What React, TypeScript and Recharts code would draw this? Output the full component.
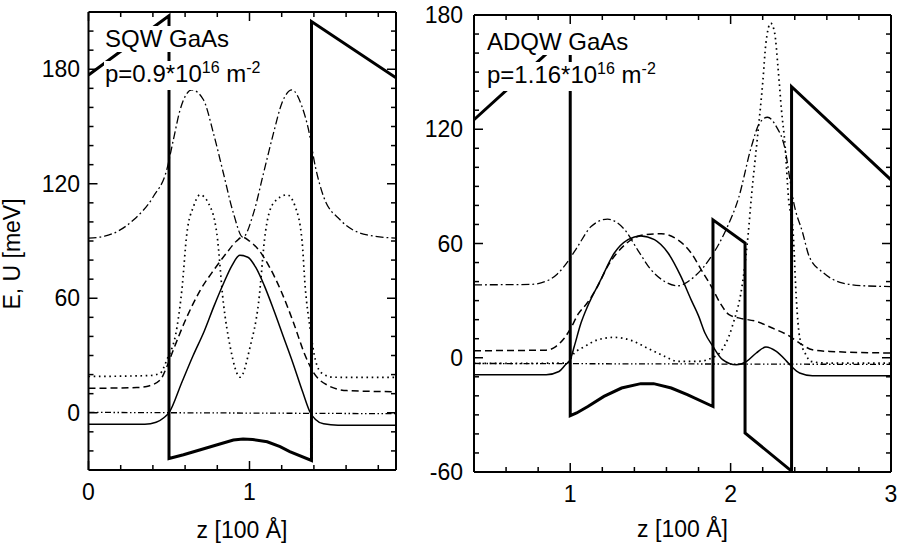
import React from "react";
import { LineChart, Line, XAxis, YAxis } from "recharts";

// ---- SQW panel (left) ----
const sqwBand = [
  [0, 177], [0.5, 208], [0.5, -24], [0.59, -22], [0.69, -19.5], [0.8, -16.8], [0.9, -14.3],
  [0.96, -13.7], [1.02, -14], [1.11, -15.2], [1.19, -17.8], [1.25, -20.4], [1.385, -25],
  [1.385, 205], [1.91, 175.5],
];
const sqwSolid = [
  [0, -6], [0.35, -6], [0.42, -5], [0.47, -2.5], [0.5, 0], [0.58, 16], [0.65, 30], [0.72, 43],
  [0.78, 56], [0.84, 68], [0.89, 77], [0.94, 82.5], [0.99, 81.5], [1.04, 76], [1.09, 67],
  [1.15, 54], [1.21, 40], [1.27, 26], [1.33, 11], [1.378, 0], [1.41, -3.5], [1.46, -5.8],
  [1.55, -6.5], [1.91, -6.5],
];
const sqwDashed = [
  [0, 12.8], [0.3, 13.2], [0.362, 13.8], [0.445, 17.2], [0.486, 24], [0.527, 33], [0.61, 50],
  [0.693, 64], [0.78, 75], [0.86, 84], [0.92, 90], [0.955, 92], [1.0, 90], [1.06, 85],
  [1.12, 77], [1.2, 63], [1.27, 48], [1.346, 30], [1.398, 21], [1.481, 14.6], [1.606, 11.6],
  [1.91, 11],
];
const sqwDotted = [
  [0, 19], [0.38, 19.5], [0.445, 20.7], [0.486, 27.6], [0.55, 45], [0.58, 64.4], [0.611, 94],
  [0.652, 108], [0.693, 114.2], [0.745, 109.8], [0.797, 94], [0.838, 57.4], [0.88, 34.6],
  [0.942, 18.6], [1.004, 34.6], [1.056, 57.4], [1.098, 94], [1.149, 109.8], [1.233, 114.2],
  [1.284, 108], [1.326, 90.4], [1.346, 66], [1.378, 43.4], [1.409, 27.7], [1.45, 20.7],
  [1.522, 18.6], [1.91, 18.5],
];
const sqwDashDot = [
  [0, 91.5], [0.1, 92.5], [0.279, 101], [0.403, 113.3], [0.486, 127.3], [0.527, 143],
  [0.569, 158.7], [0.642, 169.2], [0.714, 164], [0.776, 146.5], [0.838, 125.5], [0.9, 104.6],
  [0.959, 92], [1.025, 104.6], [1.087, 125.5], [1.149, 146.5], [1.201, 162.2], [1.264, 169.2],
  [1.326, 160.4], [1.367, 148.2], [1.409, 129], [1.46, 113.3], [1.564, 101], [1.73, 93.2],
  [1.91, 91.5],
];
const sqwFermi = [[0, 0.2], [1.91, -0.5]];

// ---- ADQW panel (right) ----
const adqwBand = [
  [0.4, 125], [1.0, 171], [1.0, -30.4], [1.04, -29], [1.11, -25.6], [1.21, -20.3], [1.32, -15.9],
  [1.44, -13.6], [1.52, -13.6], [1.63, -15.9], [1.73, -19.4], [1.89, -25.6], [1.89, 72.4],
  [2.09, 60.2], [2.09, -39.5], [2.38, -59.5], [2.38, 142.4], [3.0, 93.4],
];
const adqwSolid = [
  [0.4, -8.9], [0.85, -8.9], [0.93, -7.2], [0.97, -3.7], [1.0, -1], [1.025, 5.9], [1.067, 18.2],
  [1.108, 27], [1.19, 40.9], [1.275, 55], [1.36, 62], [1.44, 64], [1.525, 62], [1.61, 55],
  [1.69, 42.7], [1.754, 30.4], [1.8, 22], [1.84, 13], [1.89, 5.9], [1.95, -1], [2.035, -3.7],
  [2.1, -1.9], [2.16, 2.5], [2.22, 5.6], [2.285, 3.3], [2.35, -1.9], [2.38, -4.6], [2.43, -8],
  [2.51, -9.4], [3.0, -9.4],
];
const adqwDashed = [
  [0.4, 3.7], [0.85, 4], [0.91, 5.9], [0.96, 10], [1.0, 15], [1.05, 23], [1.108, 29],
  [1.17, 37.4], [1.233, 48], [1.34, 59.3], [1.46, 64.6], [1.567, 65.1], [1.67, 62], [1.754, 55],
  [1.817, 46.2], [1.88, 37.4], [1.94, 28], [1.99, 22.6], [2.056, 20.8], [2.16, 19.1],
  [2.26, 15.6], [2.37, 11.2], [2.43, 7.7], [2.51, 4.2], [2.62, 3.3], [3.0, 2.5],
];
const adqwDotted = [
  [0.4, -3], [0.98, -2.8], [1.025, 2.4], [1.09, 5.9], [1.17, 9.4], [1.275, 10.7], [1.38, 9.1],
  [1.48, 5.1], [1.59, 0.7], [1.67, -1.9], [1.795, -1.9], [1.88, -0.2], [1.93, 2.4], [2.01, 16.4],
  [2.08, 42.7], [2.11, 65.4], [2.13, 84.7], [2.17, 118], [2.2, 144.2], [2.22, 165.2],
  [2.25, 175.7], [2.275, 170.4], [2.295, 153], [2.317, 130.2], [2.34, 111], [2.36, 84.7],
  [2.39, 65.4], [2.41, 30.4], [2.43, 11], [2.47, 1.5], [2.5, -1.9], [2.6, -2.8], [3.0, -2.8],
];
const adqwDashDot = [
  [0.4, 38.3], [0.75, 38.5], [0.87, 41], [0.92, 44], [0.98, 50], [1.046, 58.4], [1.13, 68.9],
  [1.233, 72.8], [1.34, 67.2], [1.42, 56.7], [1.504, 46.2], [1.59, 40], [1.67, 37.8],
  [1.775, 42.7], [1.88, 53.2], [1.97, 67], [2.05, 84], [2.13, 111], [2.18, 123.2], [2.23, 126.3],
  [2.285, 121.4], [2.34, 109.2], [2.37, 93.4], [2.39, 83], [2.45, 65.4], [2.49, 53.2],
  [2.58, 44.5], [2.7, 39.2], [2.83, 37.8], [3.0, 37.4],
];
const adqwFermi = [[0.4, -3], [3.0, -3.5]];

// ---- ticks (all positions, and which of them are labelled) ----
const sqwXTicks = [0, 0.2, 0.4, 0.6, 0.8, 1, 1.2, 1.4, 1.6, 1.8];
const sqwXMajor = [0, 1];
const sqwYTicks = [-20, -10, 0, 10, 20, 30, 40, 50, 60, 70, 80, 90, 100, 110, 120, 130, 140, 150, 160, 170, 180, 190, 200];
const sqwYMajor = [0, 60, 120, 180];
const adqwXTicks = [0.6, 0.8, 1, 1.2, 1.4, 1.6, 1.8, 2, 2.2, 2.4, 2.6, 2.8, 3];
const adqwXMajor = [1, 2, 3];
const adqwYTicks = [-60, -50, -40, -30, -20, -10, 0, 10, 20, 30, 40, 50, 60, 70, 80, 90, 100, 110, 120, 130, 140, 150, 160, 170, 180];
const adqwYMajor = [-60, 0, 60, 120, 180];

const toPts = (a: number[][]) => a.map(([z, e]) => ({ z, e }));

const FONT = '"Liberation Sans", Arial, Helvetica, sans-serif';

const curveStyles = [
  { key: "fermi", dash: "6 2.5 1.5 2.5 1.5 2.5", w: 1.3, type: "linear" },
  { key: "dashdot", dash: "8 3 1.8 3", w: 1.3, type: "monotone" },
  { key: "dotted", dash: "1.6 3.6", w: 1.7, type: "monotone" },
  { key: "dashed", dash: "7 4", w: 1.5, type: "monotone" },
  { key: "solid", dash: undefined, w: 1.5, type: "monotone" },
  { key: "band", dash: undefined, w: 3, type: "linear" },
];

// inward tick marks, labels only on bottom/left majors
const makeTick = (side: string, majors: number[], label: boolean, gap: number) => (p: any) => {
  const v = p.payload.value;
  const major = majors.includes(v);
  const len = major ? 9 : 5;
  const { x, y } = p;
  let l = { x1: x, y1: y, x2: x, y2: y };
  if (side === "bottom") l.y2 = y - len;
  if (side === "top") l.y2 = y + len;
  if (side === "left") l.x2 = x + len;
  if (side === "right") l.x2 = x - len;
  return (
    <g>
      <line {...l} stroke="#000" strokeWidth={1.5} />
      {label && major && side === "bottom" && (
        <text x={x} y={y + 30} textAnchor="middle" fontSize={23} fontFamily={FONT} fill="#000">{v}</text>
      )}
      {label && major && side === "left" && (
        <text x={x - gap} y={y + 8} textAnchor="end" fontSize={23} fontFamily={FONT} fill="#000">{v}</text>
      )}
    </g>
  );
};

function Panel(props: {
  width: number; height: number; margin: any; xDomain: number[]; yDomain: number[];
  xTicks: number[]; xMajor: number[]; yTicks: number[]; yMajor: number[];
  yGap: number; series: Record<string, number[][]>;
}) {
  const { width, height, margin, xDomain, yDomain, xTicks, xMajor, yTicks, yMajor, yGap, series } = props;
  const axisLine = { stroke: "#000", strokeWidth: 2 };
  const common = { type: "number" as const, allowDataOverflow: true, interval: 0 as const, tickSize: 0, tickMargin: 0, tickLine: false, axisLine };
  return (
    <LineChart width={width} height={height} margin={margin}>
      <XAxis xAxisId="b" dataKey="z" domain={xDomain} ticks={xTicks} height={1} orientation="bottom"
        tick={makeTick("bottom", xMajor, true, 0)} {...common} />
      <XAxis xAxisId="t" dataKey="z" domain={xDomain} ticks={xTicks} height={1} orientation="top"
        tick={makeTick("top", xMajor, false, 0)} {...common} />
      <YAxis yAxisId="l" domain={yDomain} ticks={yTicks} width={1} orientation="left"
        tick={makeTick("left", yMajor, true, yGap)} {...common} />
      <YAxis yAxisId="r" domain={yDomain} ticks={yTicks} width={1} orientation="right"
        tick={makeTick("right", yMajor, false, 0)} {...common} />
      {curveStyles.map((c) => (
        <Line key={c.key} xAxisId="b" yAxisId="l" data={toPts(series[c.key])} dataKey="e" type={c.type as any}
          stroke="#000" strokeWidth={c.w} strokeDasharray={c.dash} strokeLinejoin="miter"
          dot={false} activeDot={false} isAnimationActive={false} />
      ))}
    </LineChart>
  );
}

const textBox: React.CSSProperties = {
  position: "absolute", fontFamily: FONT, fontSize: 24, lineHeight: "26px",
  background: "#fff", color: "#000", whiteSpace: "nowrap", padding: "0 1px",
};
const sup: React.CSSProperties = { fontSize: 16, position: "relative", top: -9 };
const axisTitle: React.CSSProperties = {
  position: "absolute", width: 200, height: 26, lineHeight: "26px", textAlign: "center",
  fontFamily: FONT, fontSize: 23, color: "#000",
};

export default function App() {
  return (
    <div style={{ position: "absolute", left: 0, top: 0, width: 905, height: 547, background: "#fff", overflow: "hidden" }}>
      <div style={{ position: "absolute", left: 0, top: 0 }}>
        <Panel width={400} height={547} margin={{ top: 11, right: 3, bottom: 76, left: 87.5 }}
          xDomain={[0, 1.91]} yDomain={[-30, 210]} xTicks={sqwXTicks} xMajor={sqwXMajor}
          yTicks={sqwYTicks} yMajor={sqwYMajor} yGap={8.5}
          series={{ band: sqwBand, solid: sqwSolid, dashed: sqwDashed, dotted: sqwDotted, dashdot: sqwDashDot, fermi: sqwFermi }} />
      </div>
      <div style={{ position: "absolute", left: 410, top: 0 }}>
        <Panel width={495} height={547} margin={{ top: 14, right: 13, bottom: 74, left: 63 }}
          xDomain={[0.4, 3]} yDomain={[-60, 180]} xTicks={adqwXTicks} xMajor={adqwXMajor}
          yTicks={adqwYTicks} yMajor={adqwYMajor} yGap={11}
          series={{ band: adqwBand, solid: adqwSolid, dashed: adqwDashed, dotted: adqwDotted, dashdot: adqwDashDot, fermi: adqwFermi }} />
      </div>

      <div style={{ ...textBox, left: 104, top: 25.7 }}>SQW GaAs</div>
      <div style={{ ...textBox, left: 104, top: 60.7 }}>
        p=0.9*10<span style={sup}>16</span> m<span style={sup}>-2</span>
      </div>
      <div style={{ ...textBox, left: 486, top: 28.7 }}>ADQW GaAs</div>
      <div style={{ ...textBox, left: 486, top: 61.7 }}>
        p=1.16*10<span style={sup}>16</span> m<span style={sup}>-2</span>
      </div>

      <div style={{ ...axisTitle, left: -88, top: 240.5, transform: "rotate(-90deg)" }}>E, U [meV]</div>
      <div style={{ ...axisTitle, left: 142, top: 517 }}>z [100 Å]</div>
      <div style={{ ...axisTitle, left: 582.5, top: 516 }}>z [100 Å]</div>
    </div>
  );
}
